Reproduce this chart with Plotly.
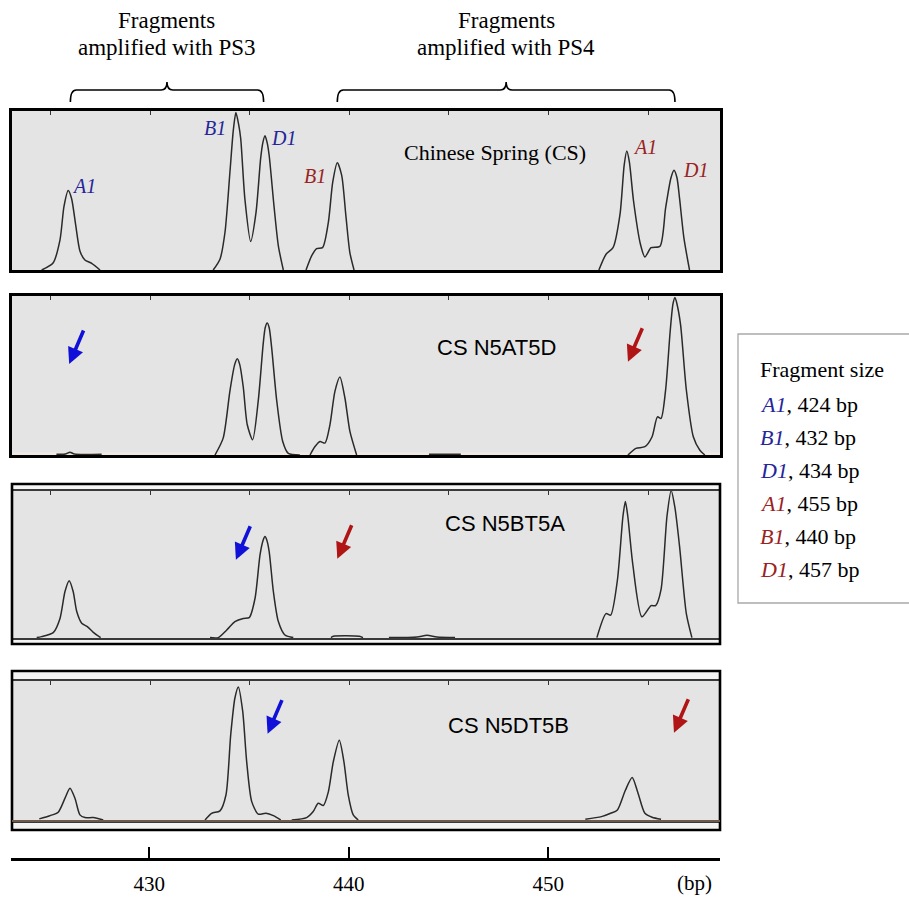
import plotly.graph_objects as go

# ---------------- data (x in bp, y in % of panel height) ----------------
P1_X = [424.56, 425.14, 425.48, 425.68, 425.89, 426.06, 426.27, 426.48, 426.73, 427.07, 427.49, None,
        433.17, 433.51, 433.76, 434.01, 434.18, 434.31, 434.44, 434.55, 434.76, 435.05, 435.32, 435.55,
        435.66, 435.77, 435.88, 435.98, 436.22, 436.44, 436.69, None,
        437.83, 438.11, 438.36, 438.66, 438.95, 439.17, 439.40, 439.62, 439.83, 440.03, 440.24, None,
        452.53, 452.89, 453.24, 453.59, 453.80, 453.93, 454.06, 454.27, 454.62, 454.84, 455.15, 455.60,
        455.88, 456.15, 456.30, 456.45, 456.58, 456.80, 457.08]
P1_Y = [0, 4.6, 19, 40, 50, 45, 28, 12, 6.3, 4.2, 0, None,
        0, 6.8, 23.6, 61.6, 88, 99, 92, 82.7, 44.7, 18, 36.3, 70,
        80, 84.4, 80, 72, 40.5, 15.2, 0, None,
        0, 8.9, 13.5, 14.1, 30, 55.3, 67.5, 59.5, 34.2, 11, 0, None,
        0, 9.9, 14, 35, 66, 74.8, 68, 43.4, 16, 8.2, 14, 15,
        39, 58, 62.7, 58, 45, 20, 0]

P2_X = [425.30, 425.75, 425.98, 426.20, 427.57, None,
        433.26, 433.67, 434.01, 434.25, 434.38, 434.50, 434.68, 434.88, 435.15, 435.43, 435.68, 435.78,
        435.88, 435.98, 436.10, 436.36, 436.66, 436.94, 437.52, None,
        438.03, 438.28, 438.53, 438.78, 439.03, 439.28, 439.53, 439.78, 440.03, 440.37, None,
        444.0, 445.6, None,
        453.99, 454.39, 454.84, 455.20, 455.47, 455.65, 455.88, 456.11, 456.25, 456.35, 456.45, 456.63,
        456.92, 457.27, 457.60, 457.85]
P2_Y = [0.5, 0.6, 1.8, 0.6, 0.5, None,
        0, 10.6, 40.4, 57, 60.6, 57, 42.6, 19, 9.6, 34, 70, 80,
        83, 80, 68, 34, 8.5, 1, 0, None,
        0, 5.3, 8.5, 7.5, 19, 40, 49, 36, 15, 0, None,
        0.5, 0.5, None,
        0, 4.2, 5.2, 11.5, 24, 23, 41, 78, 95, 99, 95, 82,
        41, 11.5, 3, 0]

P3_X = [424.31, 424.56, 425.14, 425.48, 425.73, 425.94, 426.14, 426.32, 426.57, 426.85, 427.15, 427.52, None,
        433.01, 433.42, 433.85, 434.26, 434.68, 434.98, 435.27, 435.52, 435.68, 435.77, 435.86, 435.98,
        436.19, 436.44, 436.77, 437.19, None,
        439.08, 439.20, 440.50, 440.69, None,
        441.99, 443.40, 443.90, 444.40, 445.31, None,
        452.43, 452.89, 453.12, 453.46, 453.74, 453.86, 453.98, 454.23, 454.69, 455.15, 455.38, 455.65,
        455.95, 456.16, 456.35, 456.58, 456.92, 457.20]
P3_Y = [4, 4.6, 7.1, 16, 32.8, 39.5, 32.8, 20.3, 13, 10.9, 7.3, 4, None,
        4, 4, 8.8, 14, 16, 16.5, 28.6, 55.7, 65, 67.2, 65, 57.8,
        32.8, 14, 5.6, 4, None,
        4, 4.8, 4.8, 4, None,
        4, 4.4, 5.4, 4.4, 4, None,
        4, 19, 18, 40, 80, 89, 80, 50, 17, 24, 24, 34,
        80, 96, 85, 61, 19, 4]

P4_X = [424.44, 424.97, 425.39, 425.73, 425.98, 426.23, 426.48, 426.73, 427.15, 427.65, None,
        432.76, 433.09, 433.51, 433.81, 434.05, 434.26, 434.43, 434.65, 434.85, 435.10, 435.43, 435.82,
        436.19, 436.56, None,
        437.11, 437.86, 438.19, 438.44, 438.70, 438.95, 439.20, 439.50, 439.73, 439.95, 440.20, 440.45, None,
        451.85, 452.66, 453.12, 453.46, 453.86, 454.20, 454.50, 454.84, 455.20, 455.65]
P4_Y = [7, 9, 11.2, 20, 26.3, 20, 9.5, 7.8, 7.8, 6.3, None,
        6.3, 10.5, 12, 22, 60, 83, 90, 74.7, 43, 18, 10, 10.5,
        9, 6.3, None,
        6.3, 7.8, 11.6, 16.8, 15.4, 24, 43, 56.4, 43, 22, 9.5, 6.3, None,
        6.7, 8.4, 10.5, 12.6, 25, 33, 23, 10.5, 8, 6.7]

PANEL_NAMES = ["Chinese Spring (CS)", "CS N5AT5D", "CS N5BT5A", "CS N5DT5B"]
PANEL_NAME_X = [447.31, 447.41, 447.81, 447.97]
PANEL_NAME_Y = [73.6, 67.9, 75.6, 66.0]

PEAK_LABELS = ["A1", "B1", "D1", "B1", "A1", "D1"]
PEAK_GROUP = ["PS3", "PS3", "PS3", "PS4", "PS4", "PS4"]
PEAK_LABEL_X = [426.68, 433.26, 436.72, 438.28, 454.84, 457.40]
PEAK_LABEL_Y = [52.8, 89.6, 83.0, 59.1, 77.4, 62.9]

ARROW_PANEL = [2, 2, 3, 3, 4, 4]
ARROW_GROUP = ["PS3", "PS4", "PS3", "PS4", "PS3", "PS4"]
ARROW_X = [425.94, 453.99, 434.31, 439.40, 435.90, 456.30]
ARROW_Y = [57.2, 58.7, 52.7, 53.3, 60.6, 61.2]

LEGEND_LABELS = ["A1", "B1", "D1", "A1", "B1", "D1"]
LEGEND_GROUP = ["PS3", "PS3", "PS3", "PS4", "PS4", "PS4"]
LEGEND_SIZES = [424, 432, 434, 455, 440, 457]

PS3_SPAN = [426.0, 435.7]
PS4_SPAN = [439.4, 456.35]

AXIS_TICKS = [430, 440, 450]
PANEL_TICKS = [425, 430, 435, 440, 445, 450, 455]

# ---------------- styling ----------------
W, H = 909, 902
SERIF = "Liberation Serif, Times New Roman, serif"
SANS = "Liberation Sans, Arial, sans-serif"
LABEL_COL = {"PS3": "#25259a", "PS4": "#9a2222"}
ARROW_COL = {"PS3": "#1010d8", "PS4": "#b01414"}
BG = "#e4e4e4"
TRACE_COL = "#2a2a2a"


def py(pix):
    return 1 - pix / H


XDOM = [12 / W, 720 / W]
XR = [423.07, 458.61]

ROWS = [
    dict(dom=[py(270), py(111)], yr=[0, 100], inner=False),
    dict(dom=[py(455), py(296)], yr=[0, 100], inner=False),
    dict(dom=[py(638), py(490.7)], yr=[3.75, 95.8], inner=True, outer=[py(644), py(484)]),
    dict(dom=[py(821), py(681)], yr=[5.66, 93.7], inner=True, outer=[py(830), py(671)]),
]
DATA = [(P1_X, P1_Y), (P2_X, P2_Y), (P3_X, P3_Y), (P4_X, P4_Y)]

fig = go.Figure()
layout = dict(width=W, height=H, margin=dict(l=0, r=0, t=0, b=0),
              paper_bgcolor="white", plot_bgcolor="rgba(0,0,0,0)", showlegend=False)
shapes = []
annotations = []

for i, (row, (xs, ys)) in enumerate(zip(ROWS, DATA), start=1):
    sfx = "" if i == 1 else str(i)
    fig.add_trace(go.Scatter(x=xs, y=ys, mode="lines", xaxis="x" + sfx, yaxis="y" + sfx,
                             line=dict(color=TRACE_COL, width=1.5, shape="spline", smoothing=0.7),
                             hoverinfo="skip", cliponaxis=True))
    inner = row["inner"]
    layout["xaxis" + sfx] = dict(domain=XDOM, range=XR, anchor="y" + sfx, side="top",
                                 showline=True, mirror=True,
                                 linecolor="#3a3a3a" if inner else "black",
                                 linewidth=1.6 if inner else 2.6,
                                 ticks="inside", ticklen=4, tickwidth=1, tickcolor="#333",
                                 tickvals=PANEL_TICKS, showticklabels=False,
                                 showgrid=False, zeroline=False, fixedrange=True)
    layout["yaxis" + sfx] = dict(domain=row["dom"], range=row["yr"], anchor="x" + sfx,
                                 showline=not inner, mirror=True, linecolor="black", linewidth=2.6,
                                 ticks="", showticklabels=False, showgrid=False, zeroline=False,
                                 fixedrange=True)
    if inner:
        o0, o1 = row["outer"]
        shapes.append(dict(type="rect", xref="paper", yref="paper", x0=XDOM[0], x1=XDOM[1],
                           y0=o0, y1=o1, fillcolor="#f4f4f4", line=dict(width=0), layer="below"))
    shapes.append(dict(type="rect", xref="x" + sfx + " domain", yref="y" + sfx + " domain",
                       x0=0, x1=1, y0=0, y1=1, fillcolor=BG, line=dict(width=0), layer="below"))
    if inner:
        shapes.append(dict(type="rect", xref="paper", yref="paper", x0=XDOM[0], x1=XDOM[1],
                           y0=o0, y1=o1, fillcolor="rgba(0,0,0,0)",
                           line=dict(color="black", width=2.6), layer="above"))
    annotations.append(dict(x=PANEL_NAME_X[i - 1], y=PANEL_NAME_Y[i - 1],
                            xref="x" + sfx, yref="y" + sfx, text=PANEL_NAMES[i - 1], showarrow=False,
                            font=dict(family=SERIF if i == 1 else SANS, size=22, color="black"),
                            xanchor="center", yanchor="middle"))

# panel 2 light strip at bottom and panel 4 brown baseline
shapes.append(dict(type="rect", xref="x2 domain", yref="y2", x0=0, x1=1, y0=0, y1=1.6,
                   fillcolor="#f1e9df", line=dict(width=0), layer="below"))
shapes.append(dict(type="line", xref="x4 domain", yref="y4 domain", x0=0, x1=1, y0=0, y1=0,
                   line=dict(color="#6e5a48", width=2.2), layer="above"))

# peak labels (panel 1)
for lab, grp, x, y in zip(PEAK_LABELS, PEAK_GROUP, PEAK_LABEL_X, PEAK_LABEL_Y):
    annotations.append(dict(x=x, y=y, xref="x", yref="y", text="<i>%s</i>" % lab, showarrow=False,
                            font=dict(family=SERIF, size=20, color=LABEL_COL[grp]),
                            xanchor="center", yanchor="middle"))

# arrows marking missing fragments
for p, grp, x, y in zip(ARROW_PANEL, ARROW_GROUP, ARROW_X, ARROW_Y):
    annotations.append(dict(x=x, y=y, xref="x%d" % p, yref="y%d" % p, text="", showarrow=True,
                            ax=15, ay=-35, arrowhead=2, arrowsize=0.9, arrowwidth=3.6,
                            arrowcolor=ARROW_COL[grp], standoff=0))

# bottom bp axis
fig.add_trace(go.Scatter(x=[AXIS_TICKS[0]], y=[0], xaxis="x5", yaxis="y5", mode="markers",
                         marker=dict(opacity=0), hoverinfo="skip"))
layout["xaxis5"] = dict(domain=[11 / W, 720 / W], range=XR, anchor="y5", side="bottom",
                        showline=True, linecolor="black", linewidth=2.6,
                        ticks="inside", ticklen=11, tickwidth=2, tickcolor="black",
                        tickvals=AXIS_TICKS, ticktext=[str(t) for t in AXIS_TICKS],
                        tickfont=dict(family=SERIF, size=21, color="black"),
                        ticklabelstandoff=5,
                        showgrid=False, zeroline=False, fixedrange=True)
layout["yaxis5"] = dict(domain=[py(858), py(857)], range=[0, 1], anchor="x5", visible=False,
                        fixedrange=True)
annotations.append(dict(x=457.35, y=py(883), xref="x5", yref="paper", text="(bp)", showarrow=False,
                        font=dict(family=SERIF, size=21, color="black"),
                        xanchor="center", yanchor="middle"))

# headings with curly brackets
for span, name in [(PS3_SPAN, "PS3"), (PS4_SPAN, "PS4")]:
    x0, x1 = span
    xc = (x0 + x1) / 2
    d = 0.3
    yb, yl, yt = py(102), py(90), py(82)
    path = ("M {a},{yb} Q {a},{yl} {a2},{yl} L {c1},{yl} Q {c},{yl} {c},{yt} "
            "Q {c},{yl} {c2},{yl} L {b2},{yl} Q {b},{yl} {b},{yb}").format(
        a=x0, a2=x0 + d, c1=xc - d, c=xc, c2=xc + d, b2=x1 - d, b=x1, yb=yb, yl=yl, yt=yt)
    shapes.append(dict(type="path", xref="x", yref="paper", path=path,
                       line=dict(color="black", width=1.6)))
    annotations.append(dict(x=xc, y=py(20), xref="x", yref="paper", text="Fragments",
                            showarrow=False, font=dict(family=SERIF, size=23, color="black"),
                            xanchor="center", yanchor="middle"))
    annotations.append(dict(x=xc, y=py(47), xref="x", yref="paper",
                            text="amplified with " + name, showarrow=False,
                            font=dict(family=SERIF, size=23, color="black"),
                            xanchor="center", yanchor="middle"))

# fragment-size key
shapes.append(dict(type="rect", xref="paper", yref="paper", x0=738 / W, x1=1.01,
                   y0=py(603), y1=py(334), fillcolor="white", line=dict(color="#a9a9a9", width=1.3)))
annotations.append(dict(x=758 / W, y=py(369), xref="paper", yref="paper", text="Fragment size",
                        showarrow=False, font=dict(family=SERIF, size=22, color="black"),
                        xanchor="left", yanchor="middle"))
for k, (lab, grp, size) in enumerate(zip(LEGEND_LABELS, LEGEND_GROUP, LEGEND_SIZES)):
    annotations.append(dict(x=758 / W, y=py(404 + k * 33), xref="paper", yref="paper",
                            text="<span style='color:%s'><i>%s</i></span>, %d bp" % (LABEL_COL[grp], lab, size),
                            showarrow=False, font=dict(family=SERIF, size=22, color="black"),
                            xanchor="left", yanchor="middle"))

layout["shapes"] = shapes
layout["annotations"] = annotations
fig.update_layout(**layout)
fig.write_html("out.html", config={"displayModeBar": False},
               post_script="document.body.style.margin='0px';")
